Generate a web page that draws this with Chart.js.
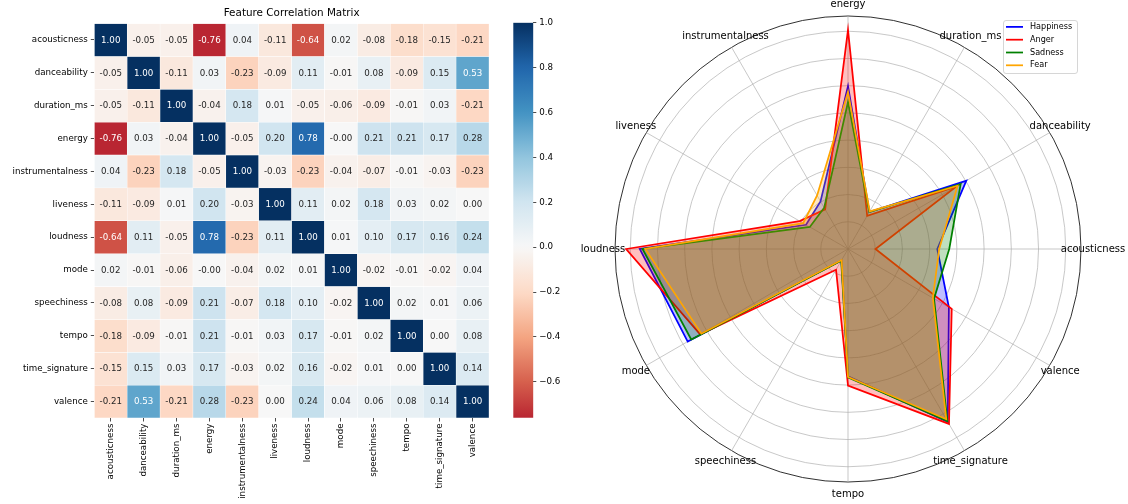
<!DOCTYPE html>
<html>
<head>
<meta charset="utf-8">
<script src="https://cdn.jsdelivr.net/npm/chart.js@4/dist/chart.umd.min.js"></script>
<style>
    body { margin: 0; background: #ffffff; }
    #wrap { position: relative; width: 1128px; height: 504px; overflow: hidden; }
    canvas { position: absolute; top: 0; }
</style>
</head>
<body>
<div id="wrap">
    <canvas id="heatmapChart" width="500" height="504" style="left:0"></canvas>
    <canvas id="colorbarChart" width="65" height="504" style="left:500px"></canvas>
    <canvas id="radarChart" width="563" height="504" style="left:565px"></canvas>
</div>
<script>
// ---- data ----
const features = ['acousticness', 'danceability', 'duration_ms', 'energy', 'instrumentalness', 'liveness',
    'loudness', 'mode', 'speechiness', 'tempo', 'time_signature', 'valence'];

// correlation matrix, one row per feature
const corrAcousticness    = [1.00, -0.05, -0.05, -0.76, 0.04, -0.11, -0.64, 0.02, -0.08, -0.18, -0.15, -0.21];
const corrDanceability    = [-0.05, 1.00, -0.11, 0.03, -0.23, -0.09, 0.11, -0.01, 0.08, -0.09, 0.15, 0.53];
const corrDuration        = [-0.05, -0.11, 1.00, -0.04, 0.18, 0.01, -0.05, -0.06, -0.09, -0.01, 0.03, -0.21];
const corrEnergy          = [-0.76, 0.03, -0.04, 1.00, -0.05, 0.20, 0.78, -0.001, 0.21, 0.21, 0.17, 0.28];
const corrInstrumental    = [0.04, -0.23, 0.18, -0.05, 1.00, -0.03, -0.23, -0.04, -0.07, -0.01, -0.03, -0.23];
const corrLiveness        = [-0.11, -0.09, 0.01, 0.20, -0.03, 1.00, 0.11, 0.02, 0.18, 0.03, 0.02, 0.00];
const corrLoudness        = [-0.64, 0.11, -0.05, 0.78, -0.23, 0.11, 1.00, 0.01, 0.10, 0.17, 0.16, 0.24];
const corrMode            = [0.02, -0.01, -0.06, -0.001, -0.04, 0.02, 0.01, 1.00, -0.02, -0.01, -0.02, 0.04];
const corrSpeechiness     = [-0.08, 0.08, -0.09, 0.21, -0.07, 0.18, 0.10, -0.02, 1.00, 0.02, 0.01, 0.06];
const corrTempo           = [-0.18, -0.09, -0.01, 0.21, -0.01, 0.03, 0.17, -0.01, 0.02, 1.00, 0.00, 0.08];
const corrTimeSignature   = [-0.15, 0.15, 0.03, 0.17, -0.03, 0.02, 0.16, -0.02, 0.01, 0.00, 1.00, 0.14];
const corrValence         = [-0.21, 0.53, -0.21, 0.28, -0.23, 0.00, 0.24, 0.04, 0.06, 0.08, 0.14, 1.00];
const corr = [corrAcousticness, corrDanceability, corrDuration, corrEnergy, corrInstrumental, corrLiveness,
    corrLoudness, corrMode, corrSpeechiness, corrTempo, corrTimeSignature, corrValence];

const colorbarMin = -0.76;
const colorbarMax = 1.0;
const colorbarTicks = [-0.6, -0.4, -0.2, 0.0, 0.2, 0.4, 0.6, 0.8, 1.0];

// radar profile per emotion, in feature order above
const emotions = ['Happiness', 'Anger', 'Sadness', 'Fear'];
const happiness = [0.328, 0.502, 0.157, 0.598, 0.202, 0.178, 0.765, 0.680, 0.048, 0.468, 0.733, 0.428];
const anger     = [0.101, 0.460, 0.141, 0.805, 0.168, 0.205, 0.815, 0.627, 0.088, 0.502, 0.742, 0.440];
const sadness   = [0.372, 0.478, 0.157, 0.540, 0.175, 0.162, 0.755, 0.665, 0.050, 0.472, 0.730, 0.365];
const fear      = [0.335, 0.465, 0.160, 0.577, 0.227, 0.190, 0.745, 0.622, 0.047, 0.470, 0.722, 0.360];
const radarRings = [0, 0.1, 0.2, 0.3, 0.4, 0.5, 0.6, 0.7, 0.8];
const radarMax = 0.856;

const emotionColors = ['#0000ff', '#ff0000', '#008000', '#ffa500'];
const emotionFills = ['rgba(0,0,255,0.25)', 'rgba(255,0,0,0.25)', 'rgba(0,128,0,0.25)', 'rgba(255,165,0,0.25)'];

// ---- helpers ----
const RDBU = ['#67001f', '#b2182b', '#d6604d', '#f4a582', '#fddbc7', '#f7f7f7',
    '#d1e5f0', '#92c5de', '#4393c3', '#2166ac', '#053061'];

function hexToRgb(hex) {
    const n = parseInt(hex.slice(1), 16);
    return [(n >> 16) & 255, (n >> 8) & 255, n & 255];
}

function rdbu(t) {
    t = Math.max(0, Math.min(1, t));
    const pos = t * 10;
    const i = Math.min(9, Math.floor(pos));
    const f = pos - i;
    const a = hexToRgb(RDBU[i]);
    const b = hexToRgb(RDBU[i + 1]);
    return a.map((c, k) => Math.round(c + (b[k] - c) * f));
}

// centred at 0, same as seaborn's center=0
const corrToT = (v) => (v + 1) / 2;
const rgbCss = (rgb) => `rgb(${rgb[0]},${rgb[1]},${rgb[2]})`;

function textColorFor(v) {
    const lin = rdbu(corrToT(v)).map(c => {
        c /= 255;
        return c <= 0.03928 ? c / 12.92 : Math.pow((c + 0.055) / 1.055, 2.4);
    });
    const lum = 0.2126 * lin[0] + 0.7152 * lin[1] + 0.0722 * lin[2];
    return lum > 0.408 ? '#262626' : '#ffffff';
}

Chart.defaults.font.family = '"DejaVu Sans", sans-serif';
Chart.defaults.color = '#000000';
Chart.defaults.animation = false;

// ---- heatmap ----
const cellLabels = {
    id: 'cellLabels',
    afterDatasetsDraw(chart) {
        const { ctx } = chart;
        ctx.save();
        ctx.font = '8.7px "DejaVu Sans"';
        ctx.textAlign = 'center';
        ctx.textBaseline = 'middle';
        chart.data.datasets.forEach((ds, r) => {
            chart.getDatasetMeta(r).data.forEach((bar, c) => {
                const v = corr[r][c];
                ctx.fillStyle = textColorFor(v);
                ctx.fillText(v.toFixed(2), bar.x, (bar.y + bar.base) / 2 + 0.5);
            });
        });
        ctx.restore();
    }
};

new Chart(document.getElementById('heatmapChart'), {
    type: 'bar',
    data: {
        labels: features,
        datasets: features.map((name, r) => ({
            label: name,
            data: features.map(() => [r, r + 1]),
            backgroundColor: corr[r].map(v => rgbCss(rdbu(corrToT(v)))),
            borderColor: '#ffffff',
            borderWidth: 0.5,
            borderSkipped: false,
            barPercentage: 1,
            categoryPercentage: 1,
            grouped: false
        }))
    },
    options: {
        responsive: false,
        layout: { padding: { left: 0, right: 11, top: 0, bottom: 0 } },
        plugins: {
            legend: { display: false },
            tooltip: { enabled: false },
            title: {
                display: true,
                text: 'Feature Correlation Matrix',
                fullSize: false,
                color: '#000000',
                font: { size: 10.4, weight: 'normal' },
                padding: { top: 7, bottom: 4 }
            }
        },
        scales: {
            x: {
                ticks: { minRotation: 90, maxRotation: 90, autoSkip: false, font: { size: 8.7 }, padding: 2 },
                grid: { drawOnChartArea: false, offset: false, tickLength: 3.5, color: '#000000', lineWidth: 0.7 },
                border: { display: false },
                afterFit: (scale) => { scale.height = 86; }
            },
            y: {
                min: 0,
                max: 12,
                reverse: true,
                afterBuildTicks: (scale) => {
                    scale.ticks = features.map((_, i) => ({ value: i + 0.5 }));
                },
                ticks: {
                    autoSkip: false,
                    font: { size: 8.7 },
                    padding: 3,
                    callback: (value) => features[Math.floor(value)]
                },
                grid: { drawOnChartArea: false, tickLength: 3.5, color: '#000000', lineWidth: 0.7 },
                border: { display: false },
                afterFit: (scale) => { scale.width = 94.3; }
            }
        }
    },
    plugins: [cellLabels]
});

// ---- colorbar ----
new Chart(document.getElementById('colorbarChart'), {
    type: 'bar',
    data: {
        labels: [''],
        datasets: [{
            data: [[colorbarMin, colorbarMax]],
            borderWidth: 0,
            barPercentage: 1,
            categoryPercentage: 1,
            backgroundColor: (ctx) => {
                const chart = ctx.chart;
                if (!chart.chartArea) return '#f7f7f7';
                const y = chart.scales.y;
                const y0 = y.getPixelForValue(colorbarMin);
                const y1 = y.getPixelForValue(colorbarMax);
                const g = chart.ctx.createLinearGradient(0, y0, 0, y1);
                for (let i = 0; i <= 64; i++) {
                    const f = i / 64;
                    g.addColorStop(f, rgbCss(rdbu(corrToT(colorbarMin + (colorbarMax - colorbarMin) * f))));
                }
                return g;
            }
        }]
    },
    options: {
        responsive: false,
        layout: { padding: { left: 13.3, right: 0, top: 22.7, bottom: 86.3 } },
        plugins: { legend: { display: false }, tooltip: { enabled: false } },
        scales: {
            x: { display: false },
            y: {
                position: 'right',
                min: colorbarMin,
                max: colorbarMax,
                afterBuildTicks: (scale) => {
                    scale.ticks = colorbarTicks.map(v => ({ value: v }));
                },
                ticks: {
                    font: { size: 8.7 },
                    padding: 3,
                    callback: (v) => (v < -1e-9 ? '\u2212' + Math.abs(v).toFixed(1) : Math.abs(v).toFixed(1))
                },
                grid: { drawOnChartArea: false, tickLength: 3, color: '#000000', lineWidth: 0.7 },
                border: { display: false },
                afterFit: (scale) => { scale.width = 31.7; }
            }
        }
    }
});

// ---- radar ----
// Chart.js goes clockwise from startAngle, the reference goes counter-clockwise from acousticness
const radarOrder = features.map((_, i) => (i === 0 ? 0 : features.length - i));
const reorder = (arr) => radarOrder.map(i => arr[i]);

const axisLabels = {
    id: 'axisLabels',
    afterDraw(chart) {
        const r = chart.scales.r;
        const { ctx } = chart;
        ctx.save();
        ctx.font = '10px "DejaVu Sans"';
        ctx.fillStyle = '#000000';
        ctx.textAlign = 'center';
        ctx.textBaseline = 'middle';
        chart.data.labels.forEach((label, i) => {
            const p = r.getPointPosition(i, r.drawingArea + 12);
            ctx.fillText(label, p.x, p.y);
        });
        ctx.restore();
    }
};

const emotionLegend = {
    id: 'emotionLegend',
    afterDraw(chart) {
        const { ctx } = chart;
        const x = 438, y = 20, w = 74, h = 53;
        ctx.save();
        ctx.beginPath();
        ctx.roundRect(x + 0.5, y + 0.5, w, h, 2.5);
        ctx.fillStyle = 'rgba(255,255,255,0.8)';
        ctx.fill();
        ctx.strokeStyle = '#cccccc';
        ctx.lineWidth = 0.8;
        ctx.stroke();
        ctx.font = '8.1px "DejaVu Sans"';
        ctx.textBaseline = 'middle';
        chart.data.datasets.forEach((ds, i) => {
            const ry = y + 6.9 + i * 12.8;
            ctx.beginPath();
            ctx.moveTo(x + 3, ry);
            ctx.lineTo(x + 20, ry);
            ctx.strokeStyle = ds.borderColor;
            ctx.lineWidth = 1.75;
            ctx.stroke();
            ctx.fillStyle = '#000000';
            ctx.fillText(ds.label, x + 27, ry);
        });
        ctx.restore();
    }
};

const profiles = [happiness, anger, sadness, fear];

new Chart(document.getElementById('radarChart'), {
    type: 'radar',
    data: {
        labels: reorder(features),
        datasets: emotions.map((name, i) => ({
            label: name,
            data: reorder(profiles[i]),
            borderColor: emotionColors[i],
            backgroundColor: emotionFills[i],
            borderWidth: 1.75,
            pointRadius: 0,
            fill: true,
            // later emotions sit on top, as in the original plot
            order: emotions.length - 1 - i
        }))
    },
    options: {
        responsive: false,
        layout: { padding: { left: 50, right: 47, top: 16, bottom: 22 } },
        plugins: { legend: { display: false }, tooltip: { enabled: false } },
        scales: {
            r: {
                min: 0,
                max: radarMax,
                startAngle: 90,
                afterBuildTicks: (scale) => {
                    scale.ticks = radarRings.concat([radarMax]).map(v => ({ value: v }));
                },
                ticks: { display: false },
                pointLabels: { display: false },
                grid: {
                    circular: true,
                    color: (ctx) => (ctx.tick && ctx.tick.value === radarMax ? '#1a1a1a' : '#b0b0b0'),
                    lineWidth: (ctx) => (ctx.tick && ctx.tick.value === radarMax ? 0.9 : 0.7)
                },
                angleLines: { color: '#b0b0b0', lineWidth: 0.7 }
            }
        }
    },
    plugins: [axisLabels, emotionLegend]
});
</script>
</body>
</html>
